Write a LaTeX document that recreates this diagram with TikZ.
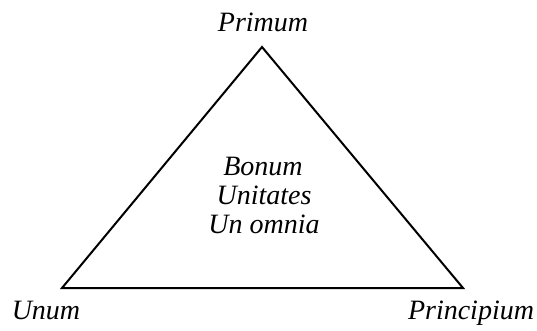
\documentclass[tikz,border=0pt]{standalone}
\usepackage{fontspec}
\setmainfont{Liberation Serif}
\begin{document}
\begin{tikzpicture}[x=1pt,y=-1pt,
  lbl/.style={font=\fontsize{28}{32}\selectfont\itshape, inner sep=0pt, anchor=base},
  edge/.style={line width=2pt, line join=miter}]
\useasboundingbox (0,0) rectangle (537,330);
\coordinate (top) at (262,47);
\coordinate (bl) at (62,288);
\coordinate (br) at (463,288);
\draw[edge] (top) -- (bl) -- (br) -- cycle;
\node[lbl] (primum) at (263,31) {Primum};
\node[lbl] (unum) at (46,319) {Unum};
\node[lbl] (principium) at (471,319) {Principium};
\node[lbl] (bonum) at (263,175) {Bonum};
\node[lbl] (unitates) at (264,204) {Unitates};
\node[lbl] (unomnia) at (264,233) {Un omnia};
\end{tikzpicture}
\end{document}
